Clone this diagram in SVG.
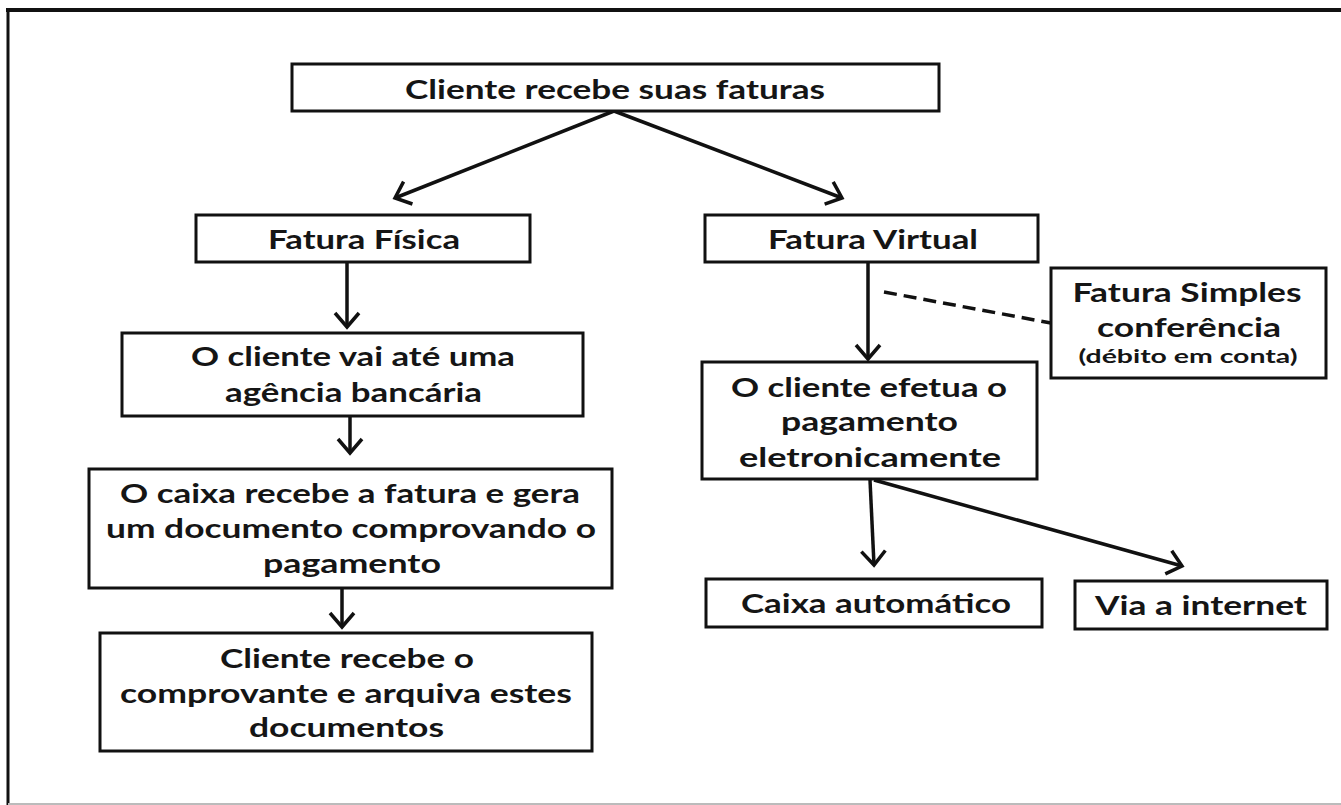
<svg xmlns="http://www.w3.org/2000/svg" width="1341" height="805" viewBox="0 0 1341 805">
<style>
.box{fill:#fff;stroke:#111;stroke-width:3}
.t{font-family:Lato,"Liberation Sans",sans-serif;font-weight:bold;font-size:26px;fill:#151515;text-anchor:middle}
.s{font-size:19px}
.c{stroke:#111;stroke-width:3.5;fill:none;marker-end:url(#ah)}
.d{stroke:#111;stroke-width:3.5;fill:none;stroke-dasharray:13 7}
</style>
<defs>
<marker id="ah" markerUnits="userSpaceOnUse" markerWidth="28" markerHeight="28" viewBox="0 0 28 28" refX="19" refY="14" orient="auto">
<path d="M5,2 L19,14 L5,26" fill="none" stroke="#111" stroke-width="3.5" stroke-linejoin="miter"/>
</marker>
</defs>
<rect width="1341" height="805" fill="#fff"/>
<g id="frame">
<line x1="6" y1="10" x2="1341" y2="10" stroke="#111" stroke-width="4"/>
<line x1="8" y1="8" x2="8" y2="805" stroke="#111" stroke-width="3"/>
<line x1="8" y1="804" x2="1341" y2="804" stroke="#bbb" stroke-width="2"/>
</g>
<g id="connectors">
<line class="c" x1="614" y1="111" x2="395" y2="198"/>
<line class="c" x1="614" y1="111" x2="842" y2="198"/>
<line class="c" x1="347" y1="262" x2="347" y2="327"/>
<line class="c" x1="350" y1="416" x2="350" y2="453"/>
<line class="c" x1="342" y1="588" x2="342" y2="627"/>
<line class="c" x1="868" y1="262" x2="868" y2="359"/>
<line class="c" x1="870" y1="480" x2="874" y2="565"/>
<line class="c" x1="874" y1="480" x2="1182" y2="566"/>
<line class="d" x1="884" y1="292" x2="1051" y2="323"/>
</g>
<g id="n1">
<rect class="box" x="292" y="64" width="647" height="47"/>
<text class="t" x="615" y="99" textLength="420" lengthAdjust="spacingAndGlyphs">Cliente recebe suas faturas</text>
</g>
<g id="n2">
<rect class="box" x="196" y="215" width="334" height="47"/>
<text class="t" x="364" y="249" textLength="192" lengthAdjust="spacingAndGlyphs">Fatura Física</text>
</g>
<g id="n3">
<rect class="box" x="705" y="215" width="333" height="47"/>
<text class="t" x="873" y="249" textLength="210" lengthAdjust="spacingAndGlyphs">Fatura Virtual</text>
</g>
<g id="n4">
<rect class="box" x="122" y="333" width="461" height="83"/>
<text class="t" x="353" y="366" textLength="324" lengthAdjust="spacingAndGlyphs">O cliente vai até uma</text>
<text class="t" x="353.5" y="402" textLength="257" lengthAdjust="spacingAndGlyphs">agência bancária</text>
</g>
<g id="n5">
<rect class="box" x="89" y="469" width="523" height="119"/>
<text class="t" x="350" y="503" textLength="460" lengthAdjust="spacingAndGlyphs">O caixa recebe a fatura e gera</text>
<text class="t" x="351" y="538" textLength="490" lengthAdjust="spacingAndGlyphs">um documento comprovando o</text>
<text class="t" x="352" y="573" textLength="178" lengthAdjust="spacingAndGlyphs">pagamento</text>
</g>
<g id="n6">
<rect class="box" x="100" y="633" width="492" height="118"/>
<text class="t" x="347" y="668" textLength="254" lengthAdjust="spacingAndGlyphs">Cliente recebe o</text>
<text class="t" x="346" y="703" textLength="452" lengthAdjust="spacingAndGlyphs">comprovante e arquiva estes</text>
<text class="t" x="346.5" y="737" textLength="195" lengthAdjust="spacingAndGlyphs">documentos</text>
</g>
<g id="n7">
<rect class="box" x="1051" y="268" width="275" height="110"/>
<text class="t" x="1187" y="302" textLength="229" lengthAdjust="spacingAndGlyphs">Fatura Simples</text>
<text class="t" x="1189" y="337" textLength="184" lengthAdjust="spacingAndGlyphs">conferência</text>
<text class="t s" x="1188" y="363" textLength="219" lengthAdjust="spacingAndGlyphs">(débito em conta)</text>
</g>
<g id="n8">
<rect class="box" x="702" y="362" width="335" height="117"/>
<text class="t" x="869" y="397" textLength="276" lengthAdjust="spacingAndGlyphs">O cliente efetua o</text>
<text class="t" x="869.5" y="431" textLength="177" lengthAdjust="spacingAndGlyphs">pagamento</text>
<text class="t" x="870" y="467" textLength="262" lengthAdjust="spacingAndGlyphs">eletronicamente</text>
</g>
<g id="n9">
<rect class="box" x="706" y="579" width="336" height="48"/>
<text class="t" x="876" y="613" textLength="270" lengthAdjust="spacingAndGlyphs">Caixa automático</text>
</g>
<g id="n10">
<rect class="box" x="1075" y="581" width="252" height="48"/>
<text class="t" x="1201" y="615" textLength="212" lengthAdjust="spacingAndGlyphs">Via a internet</text>
</g>
</svg>
